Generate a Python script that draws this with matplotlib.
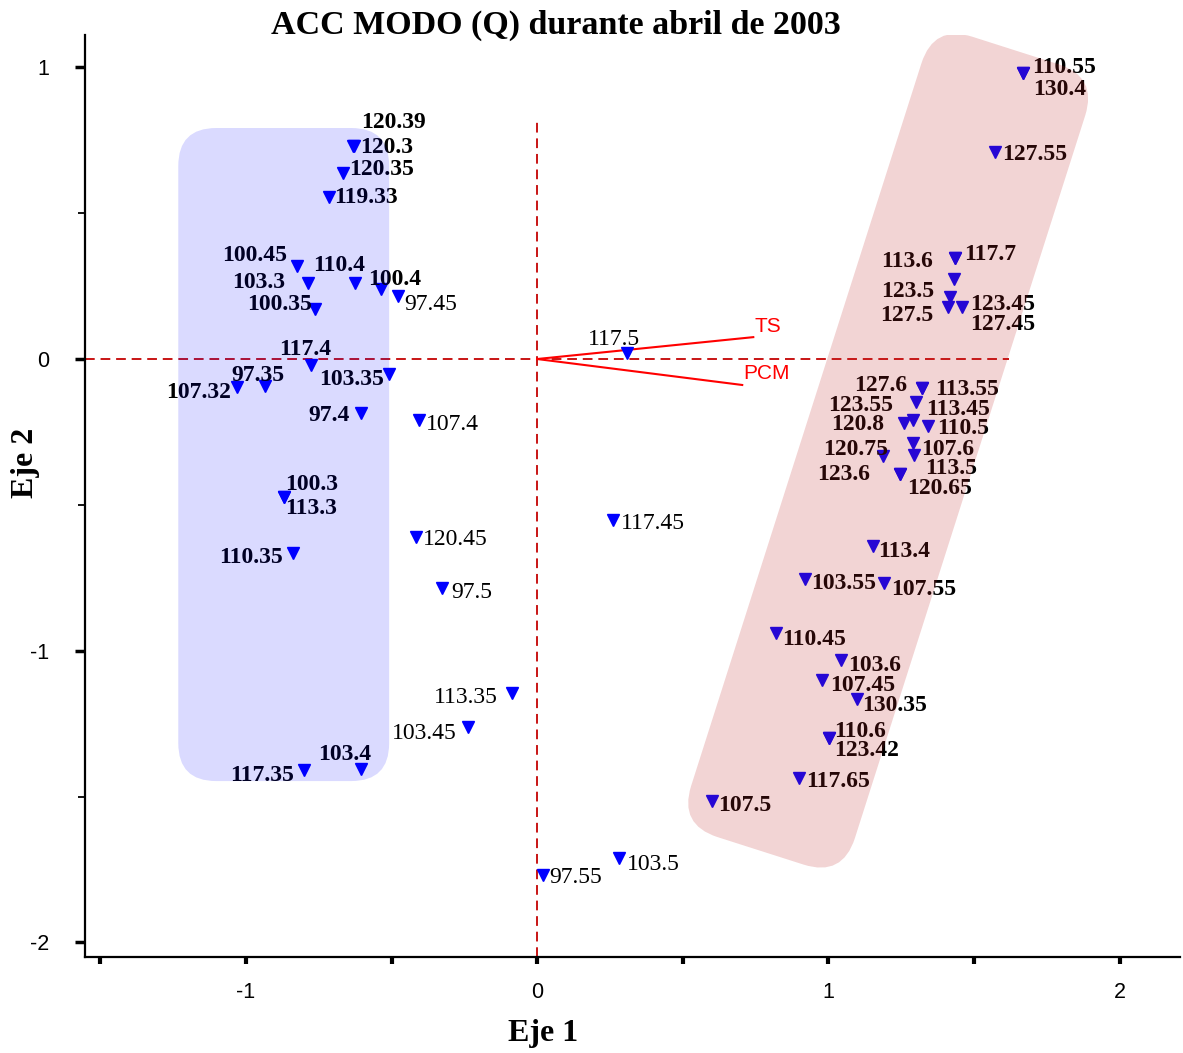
import numpy as np
import matplotlib
matplotlib.use("Agg")
import matplotlib.pyplot as plt
from matplotlib.patches import FancyBboxPatch
from matplotlib.transforms import Affine2D
from matplotlib.ticker import MultipleLocator

plt.rcParams['axes.unicode_minus'] = False

# Site/date labels and their scores on the two canonical axes
labels = ["120.39", "120.3", "120.35", "119.33", "100.45", "103.3", "110.4", "100.4",
          "97.45", "100.35", "117.4", "103.35", "107.32", "97.35", "97.4", "107.4",
          "100.3", "113.3", "110.35", "120.45", "97.5", "113.35", "103.45", "117.35",
          "103.4", "97.55", "103.5", "117.45", "117.5",
          "110.55", "130.4", "127.55", "117.7", "113.6", "123.5", "123.45", "127.5",
          "127.45", "113.55", "127.6", "113.45", "123.55", "120.8", "110.5", "107.6",
          "113.5", "120.75", "123.6", "120.65", "113.4", "103.55", "107.55", "110.45",
          "103.6", "107.45", "130.35", "110.6", "123.42", "117.65", "107.5"]
eje1 = [-0.630, -0.632, -0.666, -0.714, -0.824, -0.786, -0.625, -0.536,
        -0.477, -0.762, -0.776, -0.508, -1.030, -0.934, -0.604, -0.405,
        -0.869, -0.869, -0.838, -0.415, -0.326, -0.086, -0.237, -0.800,
        -0.604, 0.021, 0.281, 0.261, 0.309,
        1.668, 1.668, 1.572, 1.435, 1.435, 1.432, 1.418, 1.411,
        1.459, 1.322, 1.322, 1.301, 1.291, 1.260, 1.342, 1.291,
        1.294, 1.188, 1.246, 1.246, 1.153, 0.920, 1.191, 0.820,
        1.044, 0.978, 1.099, 1.002, 1.002, 0.899, 0.601]
eje2 = [0.732, 0.730, 0.638, 0.555, 0.319, 0.261, 0.261, 0.240,
        0.216, 0.171, -0.021, -0.051, -0.096, -0.093, -0.185, -0.209,
        -0.473, -0.473, -0.665, -0.610, -0.785, -1.145, -1.262, -1.409,
        -1.406, -1.769, -1.711, -0.552, 0.021,
        0.980, 0.980, 0.710, 0.346, 0.346, 0.274, 0.213, 0.178,
        0.178, -0.099, -0.099, -0.147, -0.209, -0.219, -0.230, -0.288,
        -0.329, -0.333, -0.394, -0.394, -0.641, -0.754, -0.768, -0.939,
        -1.032, -1.100, -1.166, -1.299, -1.299, -1.436, -1.515]
# labels printed in regular weight (not inside a group)
normal_labels = {"97.45", "107.4", "120.45", "97.5", "113.35", "103.45",
                 "97.55", "103.5", "117.45", "117.5"}

# environmental variables (biplot vectors)
var_names = ["TS", "PCM"]
var_x = [0.742, 0.704]
var_y = [0.075, -0.089]

# label placement: offset in pixels (dx, dy) and horizontal alignment
lab_off = [(7, 26, 'left'), (7, 1, 'left'), (6, 6, 'left'), (5, 2, 'left'),
           (-10, 13, 'right'), (-23, 3, 'right'), (-16, 20, 'center'), (14, 12, 'center'),
           (6, -6, 'left'), (-3, 7, 'right'), (-6, 18, 'center'), (-5, -3, 'right'),
           (-6, -3, 'right'), (-7, 13, 'center'), (-11, 0, 'right'), (7, -2, 'left'),
           (1, 15, 'left'), (1, -9, 'left'), (-10, -2, 'right'), (7, 0, 'left'),
           (9, -2, 'left'), (-14, -2, 'right'), (-11, -4, 'right'), (-10, -3, 'right'),
           (-17, 17, 'center'), (6, 0, 'left'), (8, -4, 'left'), (8, -1, 'left'),
           (-13, 16, 'center'),
           (9, 8, 'left'), (10, -14, 'left'), (7, 0, 'left'), (9, 6, 'left'),
           (-22, -1, 'right'), (-20, -10, 'right'), (20, -5, 'left'), (-15, -6, 'right'),
           (8, -15, 'left'), (13, 1, 'left'), (-15, 5, 'right'), (10, -5, 'left'),
           (-20, 17, 'right'), (-20, 1, 'right'), (9, 0, 'left'), (8, -4, 'left'),
           (11, -11, 'left'), (5, 9, 'right'), (-30, 2, 'right'), (7, -12, 'left'),
           (5, -3, 'left'), (6, -2, 'left'), (7, -4, 'left'), (6, -4, 'left'),
           (7, -3, 'left'), (8, -3, 'left'), (5, -4, 'left'), (5, 9, 'left'),
           (5, -10, 'left'), (7, -1, 'left'), (6, -2, 'left')]

SERIF = 'Liberation Serif'
SANS = 'Liberation Sans'

fig = plt.figure(figsize=(11.83, 10.53), dpi=100)
ax = fig.add_axes([0.0719, 0.0912, 0.9256, 0.8756])
ax.set_xlim(-1.552, 2.207)
ax.set_ylim(-2.05, 1.111)

# reference lines through origin
ax.plot([-1.552, 1.62], [0, 0], color='#c81414', lw=1.4, ls=(0, (5, 3)), zorder=1)
ax.plot([0, 0], [-2.05, 0.82], color='#c81414', lw=1.4, ls=(0, (5, 3)), zorder=1)

# variable vectors
for name, vx, vy in zip(var_names, var_x, var_y):
    ax.plot([0, vx], [0, vy], color='red', lw=1.5, zorder=2)
    ax.annotate(name, (vx, vy), xytext=(1, 11), textcoords='offset pixels',
                ha='left', va='center', color='red', fontsize=15, family=SANS)

# points
ax.plot(eje1, eje2, 'v', color='blue', ms=8, mec='blue', zorder=3, clip_on=False)
for lab, x, y, (dx, dy, ha) in zip(labels, eje1, eje2, lab_off):
    ax.annotate(lab, (x, y), xytext=(dx, dy - 2.5), textcoords='offset pixels',
                ha=ha, va='center', fontsize=17, family=SERIF,
                fontweight='normal' if lab in normal_labels else 'bold',
                color='black', zorder=4)

# group highlight boxes (drawn translucent on top)
blue_box = FancyBboxPatch((-1.232, -1.447), 0.724, 2.239,
                          boxstyle='round,pad=0,rounding_size=0.13',
                          fc='blue', ec='none', alpha=0.145, zorder=5)
ax.add_patch(blue_box)
L, W = 2.88, 0.59
pink_box = FancyBboxPatch((-L / 2, -W / 2), L, W,
                          boxstyle='round,pad=0,rounding_size=0.14',
                          fc='#c02828', ec='none', alpha=0.2, zorder=5)
pink_box.set_transform(Affine2D().rotate_deg(72.3).translate(1.205, -0.3144) + ax.transData)
ax.add_patch(pink_box)

# axes styling
for s in ['top', 'right']:
    ax.spines[s].set_visible(False)
for s in ['left', 'bottom']:
    ax.spines[s].set_linewidth(1.6)

ax.xaxis.set_major_locator(MultipleLocator(1))
ax.xaxis.set_minor_locator(MultipleLocator(0.5))
ax.yaxis.set_major_locator(MultipleLocator(1))
ax.yaxis.set_minor_locator(MultipleLocator(0.5))
ax.tick_params(axis='x', which='both', length=5, width=3, direction='out', pad=13)
ax.tick_params(axis='y', which='major', length=7, width=2.5, direction='out', pad=19)
ax.tick_params(axis='y', which='minor', length=5, width=1.3, direction='out')
for t in ax.get_xticklabels() + ax.get_yticklabels():
    t.set_fontfamily(SANS)
    t.set_fontsize(15.5)

fig.text(543 / 1183, 1 - 1033 / 1053, 'Eje 1', ha='center', va='center',
         fontsize=23, fontweight='bold', family=SERIF)
fig.text(25 / 1183, 1 - 463 / 1053, 'Eje 2', ha='center', va='center', rotation=90,
         fontsize=23, fontweight='bold', family=SERIF)
fig.text(556 / 1183, 1 - 25 / 1053, 'ACC MODO (Q) durante abril de 2003', ha='center',
         va='center', fontsize=24.5, fontweight='bold', family=SERIF)

fig.savefig('out.png', dpi=100)
